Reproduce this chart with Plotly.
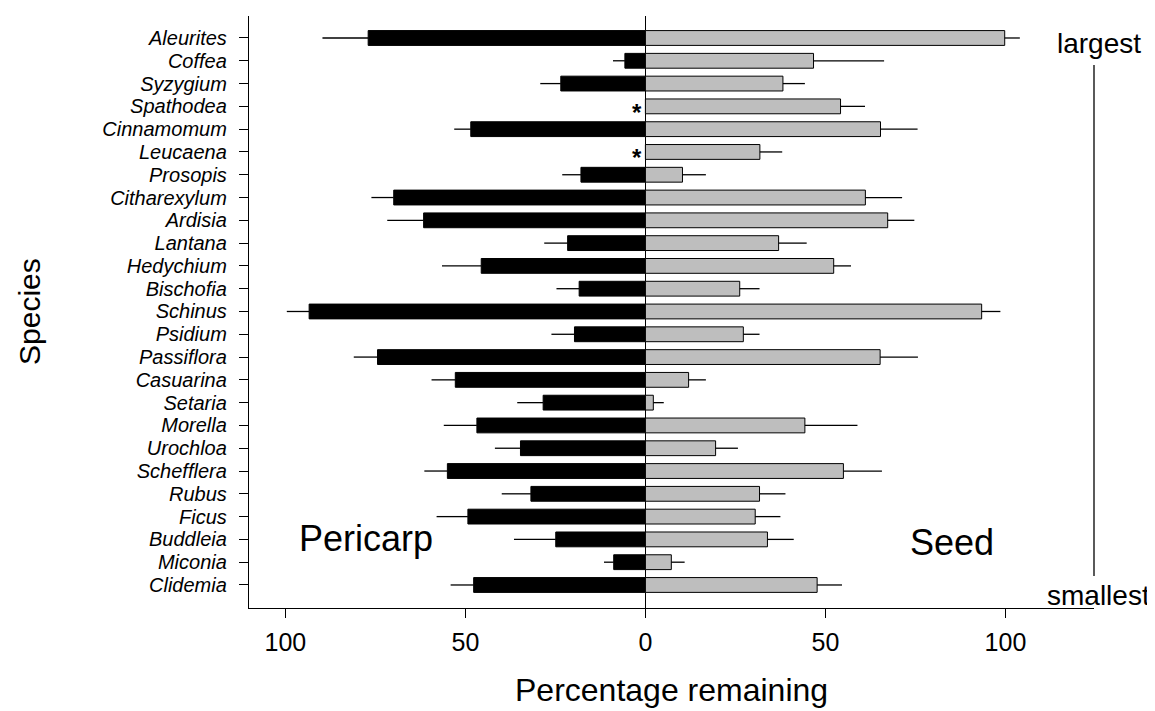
import plotly.graph_objects as go

species = ["Aleurites", "Coffea", "Syzygium", "Spathodea", "Cinnamomum", "Leucaena",
           "Prosopis", "Citharexylum", "Ardisia", "Lantana", "Hedychium", "Bischofia",
           "Schinus", "Psidium", "Passiflora", "Casuarina", "Setaria", "Morella",
           "Urochloa", "Schefflera", "Rubus", "Ficus", "Buddleia", "Miconia", "Clidemia"]

pericarp = [77.0, 5.7, 23.5, None, 48.5, None, 17.9, 69.9, 61.6, 21.6, 45.6, 18.4,
            93.4, 19.7, 74.4, 52.8, 28.4, 46.8, 34.7, 55.0, 31.8, 49.3, 24.9, 8.8, 47.7]
pericarp_err = [12.7, 3.3, 5.7, None, 4.6, None, 5.2, 6.2, 10.1, 6.5, 10.9, 6.3,
                6.2, 6.4, 6.6, 6.6, 7.2, 9.2, 7.1, 6.4, 8.1, 8.7, 11.6, 2.7, 6.4]
seed = [99.8, 46.7, 38.2, 54.2, 65.3, 31.8, 10.3, 61.1, 67.3, 37.0, 52.3, 26.2,
        93.4, 27.2, 65.2, 12.0, 2.2, 44.3, 19.5, 55.0, 31.7, 30.5, 33.9, 7.2, 47.7]
seed_err = [4.2, 19.6, 6.1, 6.8, 10.3, 6.2, 6.5, 10.2, 7.4, 7.8, 4.8, 5.5,
            5.2, 4.5, 10.5, 4.8, 2.9, 14.6, 6.2, 10.7, 7.2, 7.0, 7.3, 3.7, 6.9]
no_pericarp = ["Spathodea", "Leucaena"]

x_tickvals = [-100, -50, 0, 50, 100]
x_ticktext = ["100", "50", "0", "50", "100"]

FONT = "Liberation Sans, Arial, sans-serif"

per_x = [(-v if v is not None else None) for v in pericarp]
per_e = [(e if e is not None else 0) for e in pericarp_err]

fig = go.Figure()
fig.add_trace(go.Bar(
    y=species, x=per_x, orientation="h", width=0.65, name="Pericarp",
    marker=dict(color="black", line=dict(color="black", width=1)),
    error_x=dict(type="data", symmetric=False, array=[0] * len(species),
                 arrayminus=per_e, width=0, thickness=1.3, color="black"),
    showlegend=False,
))
fig.add_trace(go.Bar(
    y=species, x=seed, orientation="h", width=0.65, name="Seed",
    marker=dict(color="#BEBEBE", line=dict(color="black", width=1)),
    error_x=dict(type="data", symmetric=False, array=seed_err,
                 arrayminus=[0] * len(species), width=0, thickness=1.3, color="black"),
    showlegend=False,
))

annotations = []
for sp in no_pericarp:
    annotations.append(dict(x=-2.3, y=sp, xref="x", yref="y", text="<b>*</b>",
                            showarrow=False, font=dict(family=FONT, size=24, color="black"),
                            xanchor="center", yanchor="middle", yshift=-6))

def px_x(px):
    return (px - 241) / 845.0

def px_y(py):
    return (600 - py) / 592.0

annotations += [
    dict(x=px_x(358), y=px_y(530), xref="paper", yref="paper", text="Pericarp",
         showarrow=False, font=dict(family=FONT, size=36, color="black"),
         xanchor="center", yanchor="middle"),
    dict(x=px_x(944), y=px_y(534), xref="paper", yref="paper", text="Seed",
         showarrow=False, font=dict(family=FONT, size=36, color="black"),
         xanchor="center", yanchor="middle"),
    dict(x=px_x(1091), y=px_y(35), xref="paper", yref="paper", text="largest",
         showarrow=False, font=dict(family=FONT, size=28, color="black"),
         xanchor="center", yanchor="middle"),
    dict(x=px_x(1090), y=px_y(587), xref="paper", yref="paper", text="smallest",
         showarrow=False, font=dict(family=FONT, size=28, color="black"),
         xanchor="center", yanchor="middle"),
    dict(x=0.5, y=px_y(682), xref="paper", yref="paper", text="Percentage remaining",
         showarrow=False, font=dict(family=FONT, size=32, color="black"),
         xanchor="center", yanchor="middle"),
    dict(x=px_x(21), y=0.5, xref="paper", yref="paper", text="Species", textangle=-90,
         showarrow=False, font=dict(family=FONT, size=30, color="black"),
         xanchor="center", yanchor="middle"),
]

fig.add_shape(type="line", xref="paper", yref="paper",
              x0=px_x(1086), x1=px_x(1086), y0=px_y(57), y1=px_y(568),
              line=dict(color="black", width=1.3))

fig.update_layout(
    width=1155, height=711,
    margin=dict(l=241, r=69, t=8, b=111, autoexpand=False),
    paper_bgcolor="white", plot_bgcolor="white",
    barmode="overlay",
    annotations=annotations,
    font=dict(family=FONT, color="black"),
)
fig.update_xaxes(
    range=[-110.1, 124.6], tickmode="array", tickvals=x_tickvals, ticktext=x_ticktext,
    showgrid=False, zeroline=True, zerolinecolor="black", zerolinewidth=1.3,
    showline=True, linecolor="black", linewidth=1.3,
    ticks="outside", ticklen=9, tickwidth=1.3, tickcolor="black",
    tickfont=dict(family=FONT, size=25, color="black"), ticklabelstandoff=3,
    fixedrange=True,
)
fig.update_yaxes(
    type="category", categoryorder="array", categoryarray=species,
    tickmode="array", tickvals=species, ticktext=species,
    range=[25.01, -0.965],
    showgrid=False, zeroline=False,
    showline=True, linecolor="black", linewidth=1.3,
    ticks="outside", ticklen=9, tickwidth=1.3, tickcolor="black",
    tickfont=dict(family=FONT, size=20, color="black", style="italic"),
    ticklabelstandoff=8,
    fixedrange=True,
)

fig.write_html("out.html")
